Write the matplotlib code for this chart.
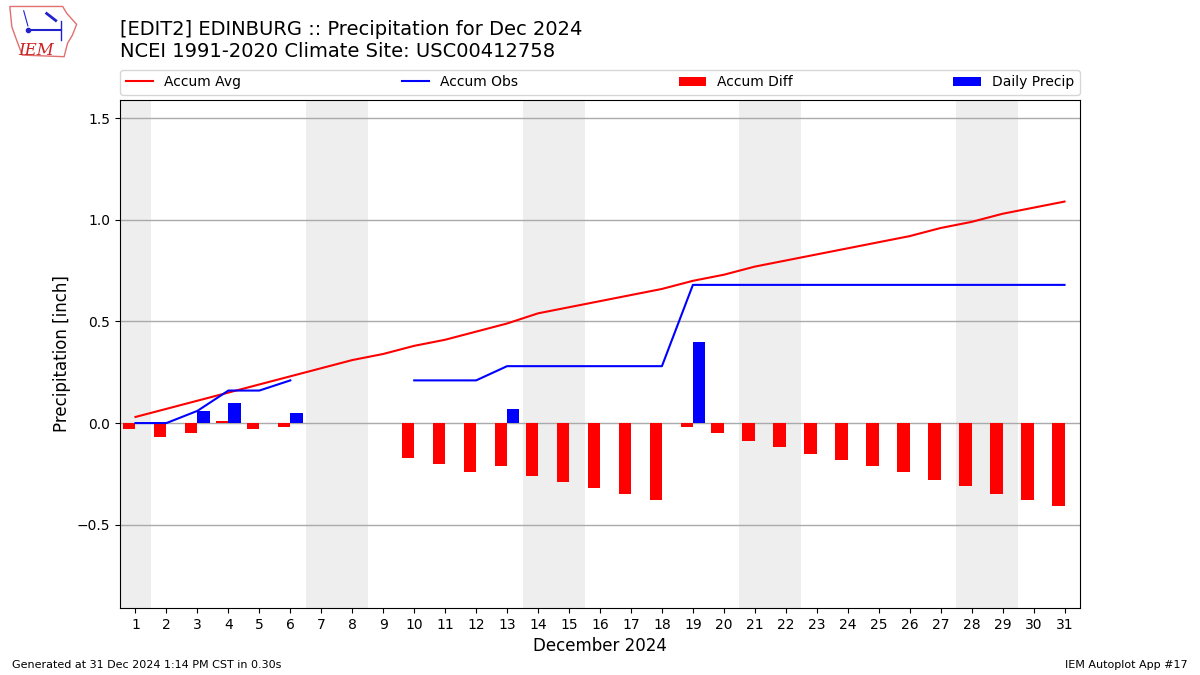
import numpy as np
import matplotlib
matplotlib.use("Agg")
import matplotlib.pyplot as plt
from matplotlib.patches import Polygon

days = list(range(1, 32))
# Normale accumulee (NCEI 1991-2020)
accum_avg = [0.03, 0.07, 0.11, 0.15, 0.19, 0.23, 0.27, 0.31, 0.34, 0.38,
             0.41, 0.45, 0.49, 0.54, 0.57, 0.60, 0.63, 0.66, 0.70, 0.73,
             0.77, 0.80, 0.83, 0.86, 0.89, 0.92, 0.96, 0.99, 1.03, 1.06, 1.09]
# precip journaliere observee (None = manquant)
daily_precip = [0.00, 0.00, 0.06, 0.10, 0.00, 0.05, None, None, None, 0.00,
                0.00, 0.00, 0.07, 0.00, 0.00, 0.00, 0.00, 0.00, 0.40, 0.00,
                0.00, 0.00, 0.00, 0.00, 0.00, 0.00, 0.00, 0.00, 0.00, 0.00, 0.00]
accum_obs = [0.00, 0.00, 0.06, 0.16, 0.16, 0.21, None, None, None, 0.21,
             0.21, 0.21, 0.28, 0.28, 0.28, 0.28, 0.28, 0.28, 0.68, 0.68,
             0.68, 0.68, 0.68, 0.68, 0.68, 0.68, 0.68, 0.68, 0.68, 0.68, 0.68]
weekends = [1, 7, 8, 14, 15, 21, 22, 28, 29]

x = np.array(days)
avg = np.array(accum_avg, dtype=float)
obs = np.array([np.nan if v is None else v for v in accum_obs])
pr = np.array([np.nan if v is None else v for v in daily_precip])
diff = obs - avg

fig = plt.figure(figsize=(12, 6.75), dpi=100)
ax = fig.add_axes([0.1, 0.0993, 0.8, 0.7526])

for d in weekends:
    ax.axvspan(d - 0.5, d + 0.5, color="#eeeeee", zorder=0, lw=0)

ax.plot(x, avg, color="r", lw=1.5, label="Accum Avg", zorder=3)
ax.plot(x, obs, color="b", lw=1.5, label="Accum Obs", zorder=3)
ax.bar(x, diff, width=-0.4, align="edge", color="r", label="Accum Diff", zorder=2)
ax.bar(x, pr, width=0.4, align="edge", color="b", label="Daily Precip", zorder=2)

ax.set_xlim(0.5, 31.5)
ax.set_ylim(-0.91, 1.59)
ax.set_xticks(days)
ax.set_yticks([-0.5, 0.0, 0.5, 1.0, 1.5])
ax.grid(True, axis="y", color="#aaaaaa", lw=1, zorder=1)
ax.set_axisbelow(True)
ax.set_xlabel("December 2024", fontsize=12)
ax.set_ylabel("Precipitation [inch]", fontsize=12)

ax.legend(loc="lower left", bbox_to_anchor=(0, 1.01, 1, 0.05), mode="expand",
          ncol=4, borderaxespad=0, fontsize=10)

fig.text(0.1, 0.97, "[EDIT2] EDINBURG :: Precipitation for Dec 2024\n"
         "NCEI 1991-2020 Climate Site: USC00412758",
         fontsize=14, va="top", ha="left")
fig.text(0.01, 0.01, "Generated at 31 Dec 2024 1:14 PM CST in 0.30s", fontsize=8)
fig.text(0.99, 0.01, "IEM Autoplot App #17", fontsize=8, ha="right")

# petit logo IEM
lax = fig.add_axes([0.007, 0.912, 0.058, 0.08])
lax.set_xlim(0, 1)
lax.set_ylim(0, 1)
lax.axis("off")
iowa = [(0.02, 0.98), (0.78, 0.98), (0.84, 0.85), (0.98, 0.65), (0.92, 0.45),
        (0.85, 0.3), (0.8, 0.05), (0.2, 0.08), (0.12, 0.35), (0.05, 0.6)]
lax.add_patch(Polygon(iowa, closed=True, fill=False, edgecolor="#e07070", lw=1))
lax.plot([0.28, 0.75], [0.55, 0.55], color="#2222cc", lw=1.5)
lax.plot([0.75, 0.75], [0.35, 0.72], color="#2222cc", lw=1)
lax.plot([0.55, 0.68], [0.85, 0.72], color="#2222cc", lw=2)
lax.plot([0.22, 0.28], [0.9, 0.62], color="#2222cc", lw=0.8)
lax.plot([0.28], [0.55], "o", color="#2222cc", ms=3)
lax.text(0.14, 0.08, "IEM", color="#cc2222", fontsize=12, family="serif",
         style="italic")

fig.savefig("out.png", dpi=100)
